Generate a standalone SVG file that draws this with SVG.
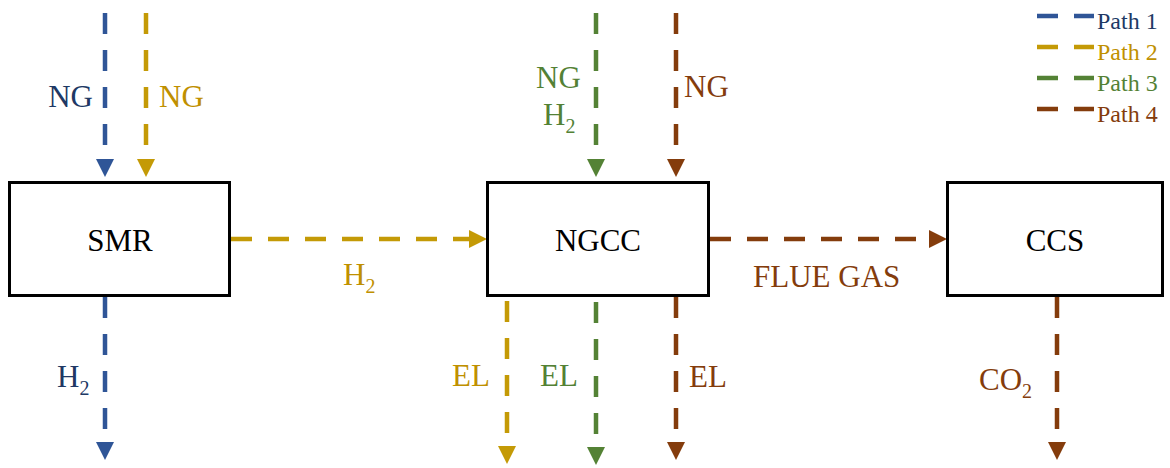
<svg xmlns="http://www.w3.org/2000/svg" width="1170" height="468" viewBox="0 0 1170 468">
<style>
text{font-family:"Liberation Serif","Times New Roman",serif;font-size:31px}
.box{fill:#fff;stroke:#000;stroke-width:3}
.c{fill:none;stroke-width:4.5;stroke-dasharray:21 16}
.b{stroke:#2f5597}.g{stroke:#c49a06}.gr{stroke:#548235}.br{stroke:#843c0c}
.tb{fill:#203864}.tg{fill:#bf9000}.tgr{fill:#538135}.tbr{fill:#843c0c}
.lg{font-size:24px}
.sub{font-size:20px}
</style>
<defs>
<marker id="ab" viewBox="0 0 18 18" refX="0" refY="9" markerWidth="18" markerHeight="18" markerUnits="userSpaceOnUse" orient="auto"><path d="M0,0L18,9L0,18z" fill="#2f5597"/></marker>
<marker id="ag" viewBox="0 0 18 18" refX="0" refY="9" markerWidth="18" markerHeight="18" markerUnits="userSpaceOnUse" orient="auto"><path d="M0,0L18,9L0,18z" fill="#c49a06"/></marker>
<marker id="agr" viewBox="0 0 18 18" refX="0" refY="9" markerWidth="18" markerHeight="18" markerUnits="userSpaceOnUse" orient="auto"><path d="M0,0L18,9L0,18z" fill="#548235"/></marker>
<marker id="abr" viewBox="0 0 18 18" refX="0" refY="9" markerWidth="18" markerHeight="18" markerUnits="userSpaceOnUse" orient="auto"><path d="M0,0L18,9L0,18z" fill="#843c0c"/></marker>
</defs>

<g id="connectors">
<line class="c b" x1="105" y1="13" x2="105" y2="159" marker-end="url(#ab)"/>
<line class="c g" x1="146" y1="13" x2="146" y2="159" marker-end="url(#ag)"/>
<line class="c gr" x1="596" y1="13" x2="596" y2="159" marker-end="url(#agr)"/>
<line class="c br" x1="676" y1="13" x2="676" y2="159" marker-end="url(#abr)"/>
<line class="c g" x1="231" y1="239" x2="469" y2="239" marker-end="url(#ag)"/>
<line class="c br" x1="710" y1="239" x2="929" y2="239" marker-end="url(#abr)"/>
<line class="c b" x1="105" y1="297" x2="105" y2="442" marker-end="url(#ab)"/>
<line class="c g" x1="507" y1="301" x2="507" y2="446" marker-end="url(#ag)"/>
<line class="c gr" x1="596" y1="302" x2="596" y2="447" marker-end="url(#agr)"/>
<line class="c br" x1="676" y1="297" x2="676" y2="442" marker-end="url(#abr)"/>
<line class="c br" x1="1057" y1="297" x2="1057" y2="442" marker-end="url(#abr)"/>
</g>

<g id="labels">
<text class="tb" x="93" y="107" text-anchor="end">NG</text>
<text class="tg" x="159" y="107">NG</text>
<text class="tgr" x="536" y="88">NG</text>
<text class="tgr" x="543" y="125">H<tspan class="sub" dy="8">2</tspan></text>
<text class="tbr" x="684" y="97">NG</text>
<text class="tg" x="343" y="285">H<tspan class="sub" dy="8">2</tspan></text>
<text class="tbr" x="753" y="287">FLUE GAS</text>
<text class="tb" x="57" y="387">H<tspan class="sub" dy="8">2</tspan></text>
<text class="tg" x="452" y="386">EL</text>
<text class="tgr" x="540" y="386">EL</text>
<text class="tbr" x="689" y="387">EL</text>
<text class="tbr" x="979" y="390">CO<tspan class="sub" dy="8">2</tspan></text>
</g>

<g id="SMR">
<rect class="box" x="9.5" y="182.5" width="220" height="113"/>
<text x="120" y="251" text-anchor="middle">SMR</text>
</g>
<g id="NGCC">
<rect class="box" x="487.5" y="182.5" width="221" height="113"/>
<text x="598" y="251" text-anchor="middle">NGCC</text>
</g>
<g id="CCS">
<rect class="box" x="947.5" y="182.5" width="215" height="113"/>
<text x="1055" y="251" text-anchor="middle">CCS</text>
</g>

<g id="legend">
<line class="c b" x1="1037" y1="16" x2="1094" y2="16"/>
<text class="lg tb" x="1097" y="29">Path 1</text>
<line class="c g" x1="1037" y1="47" x2="1094" y2="47"/>
<text class="lg tg" x="1097" y="60">Path 2</text>
<line class="c gr" x1="1037" y1="78" x2="1094" y2="78"/>
<text class="lg tgr" x="1097" y="91">Path 3</text>
<line class="c br" x1="1037" y1="109" x2="1094" y2="109"/>
<text class="lg tbr" x="1097" y="122">Path 4</text>
</g>
</svg>
